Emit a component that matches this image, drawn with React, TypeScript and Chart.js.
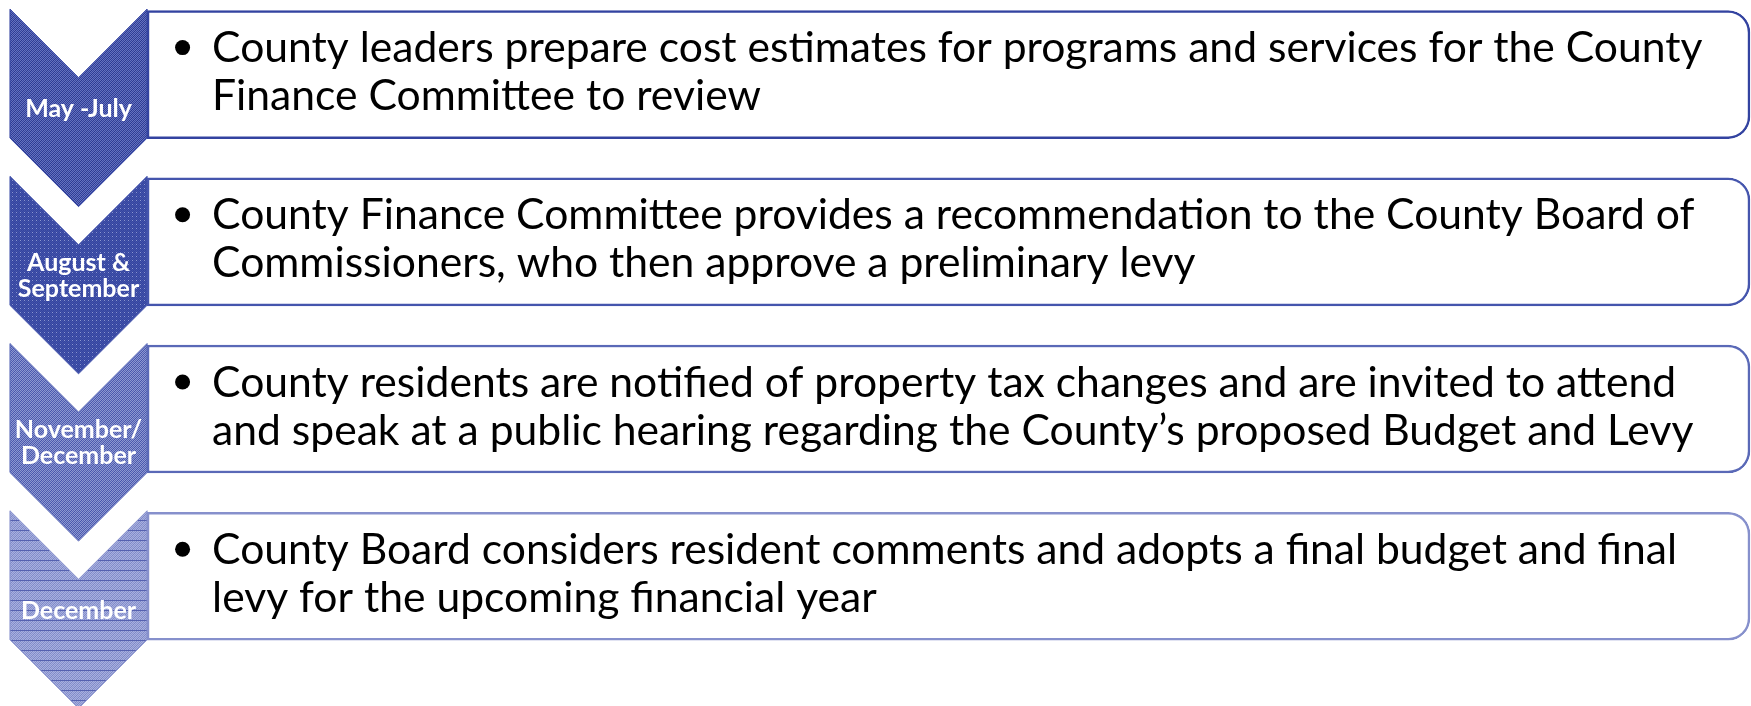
import React, { useEffect, useRef } from "react";
import { Chart, registerables } from "chart.js";

Chart.register(...registerables);

// ---- data ----
const stepIndex = [0, 1, 2, 3];
const stageLabels: string[][] = [
  ["May -July"],
  ["August &", "September"],
  ["November/", "December"],
  ["December"],
];
const stageText: string[][] = [
  [
    "County leaders prepare cost estimates for programs and services for the County",
    "Finance Committee to review",
  ],
  [
    "County Finance Committee provides a recommendation to the County Board of",
    "Commissioners, who then approve a preliminary levy",
  ],
  [
    "County residents are notified of property tax changes and are invited to attend",
    "and speak at a public hearing regarding the County\u2019s proposed Budget and Levy",
  ],
  [
    "County Board considers resident comments and adopts a final budget and final",
    "levy for the upcoming financial year",
  ],
];

// ---- layout (scale units) ----
const CHEVRON_LEFT = 0.57;
const BOX_START = 8.4;
const BOX_END = 99.94;

// ---- styles ----
const borderColors = ["#3343a0", "#4555ad", "#5a69b7", "#8690cc"];
const patternSpecs = [
  { base: "#34449f", light: "#6572be", dark: "#2a3890", lines: null as string | null },
  { base: "#4353aa", light: "#8a95cf", dark: "#3444a0", lines: null as string | null },
  { base: "#5664b4", light: "#8d98d1", dark: "#4654ab", lines: null as string | null },
  { base: "#8a94d0", light: "#a8b0dd", dark: "#7c87c8", lines: "#5561b0" },
];
const FONT = 'Lato, "Open Sans", sans-serif';

function makePattern(ctx: CanvasRenderingContext2D, spec: any, i: number) {
  const c = document.createElement("canvas");
  const w = 4;
  const h = spec.lines ? 10 : 4;
  c.width = w;
  c.height = h;
  const t = c.getContext("2d")!;
  t.fillStyle = spec.base;
  t.fillRect(0, 0, w, h);
  for (let y = 0; y < h; y++) {
    for (let x = 0; x < w; x++) {
      if (i === 1) {
        if (x % 4 === 0 && y % 4 === 0) { t.fillStyle = spec.light; t.fillRect(x, y, 1, 1); }
        else if ((x + y) % 2 === 1) { t.fillStyle = spec.dark; t.fillRect(x, y, 1, 1); }
      } else {
        if ((x + y) % 2 === 0) { t.fillStyle = spec.light; t.fillRect(x, y, 1, 1); }
        else if ((x + y) % 4 === 1) { t.fillStyle = spec.dark; t.fillRect(x, y, 1, 1); }
      }
    }
  }
  if (spec.lines) {
    t.fillStyle = spec.lines;
    t.fillRect(0, 0, w, 1);
  }
  return ctx.createPattern(c, "repeat")!;
}

const diagramPlugin = {
  id: "diagram",
  afterDatasetsDraw(chart: any) {
    const ctx: CanvasRenderingContext2D = chart.ctx;
    const xs = chart.scales.x;
    const ys = chart.scales.y;
    const left = xs.getPixelForValue(CHEVRON_LEFT);
    const right = xs.getPixelForValue(BOX_START);
    const boxRight = xs.getPixelForValue(BOX_END);
    const half = (right - left) / 2;
    const cx = (left + right) / 2;

    // fit main text font size (Calibri-like width)
    const textStart = right + 65;
    const targetWidth = boxRight - 47 - textStart;
    ctx.save();
    ctx.font = `44px ${FONT}`;
    const w44 = ctx.measureText(stageText[0][0]).width;
    ctx.restore();
    const fontSize = Math.min(46, (44 * targetWidth) / w44);

    stepIndex.forEach((s, i) => {
      const cy = ys.getPixelForValue(s);
      const top = cy - 65.5;
      const sideBottom = cy + 63.5;
      ctx.save();
      ctx.beginPath();
      ctx.moveTo(left, top);
      ctx.lineTo(cx, top + half);
      ctx.lineTo(right, top);
      ctx.lineTo(right, sideBottom);
      ctx.lineTo(cx, sideBottom + half);
      ctx.lineTo(left, sideBottom);
      ctx.closePath();
      ctx.fillStyle = makePattern(ctx, patternSpecs[i], i);
      ctx.fill();
      ctx.lineWidth = 1;
      ctx.strokeStyle = borderColors[i];
      ctx.stroke();

      // stage label
      ctx.fillStyle = "#ffffff";
      ctx.font = `bold 25px ${FONT}`;
      ctx.textAlign = "center";
      ctx.textBaseline = "middle";
      const mid = (top + half + sideBottom) / 2 + 1;
      const lines = stageLabels[i];
      lines.forEach((l, k) => {
        ctx.fillText(l, cx, mid + (k - (lines.length - 1) / 2) * 26);
      });

      // bullet + description
      const baselines = [cy - 12.5, cy + 35.5];
      ctx.fillStyle = "#000000";
      ctx.beginPath();
      ctx.arc(right + 35.5, baselines[0] - 14.5, 7.5, 0, Math.PI * 2);
      ctx.fill();
      ctx.font = `${fontSize}px ${FONT}`;
      ctx.textAlign = "left";
      ctx.textBaseline = "alphabetic";
      stageText[i].forEach((l, k) => {
        ctx.fillText(l, textStart, baselines[k]);
      });
      ctx.restore();
    });
  },
};

export default function App() {
  const ref = useRef<HTMLCanvasElement | null>(null);
  useEffect(() => {
    if (!ref.current) return;
    const chart = new Chart(ref.current, {
      type: "bar",
      data: {
        datasets: [
          {
            data: stepIndex.map((s) => ({ y: s, x: [BOX_START, BOX_END] })) as any,
            backgroundColor: "#ffffff",
            borderColor: borderColors,
            borderWidth: 2.5,
            borderSkipped: false,
            borderRadius: { topLeft: 0, bottomLeft: 0, topRight: 22, bottomRight: 22 },
            barThickness: 128,
          } as any,
        ],
      },
      options: {
        indexAxis: "y",
        animation: false,
        responsive: true,
        maintainAspectRatio: false,
        layout: { padding: 0, autoPadding: false },
        plugins: { legend: { display: false }, tooltip: { enabled: false } },
        scales: {
          x: { type: "linear", min: 0, max: 100, display: false, offset: false, grace: 0 },
          y: { type: "linear", min: -0.446, max: 3.776, reverse: true, display: false, offset: false, grace: 0 },
        },
      },
      plugins: [diagramPlugin],
    });
    return () => chart.destroy();
  }, []);
  return (
    <div style={{ position: "absolute", left: 0, top: 0, width: 1751, height: 706, background: "#fff" }}>
      <canvas ref={ref} />
    </div>
  );
}
